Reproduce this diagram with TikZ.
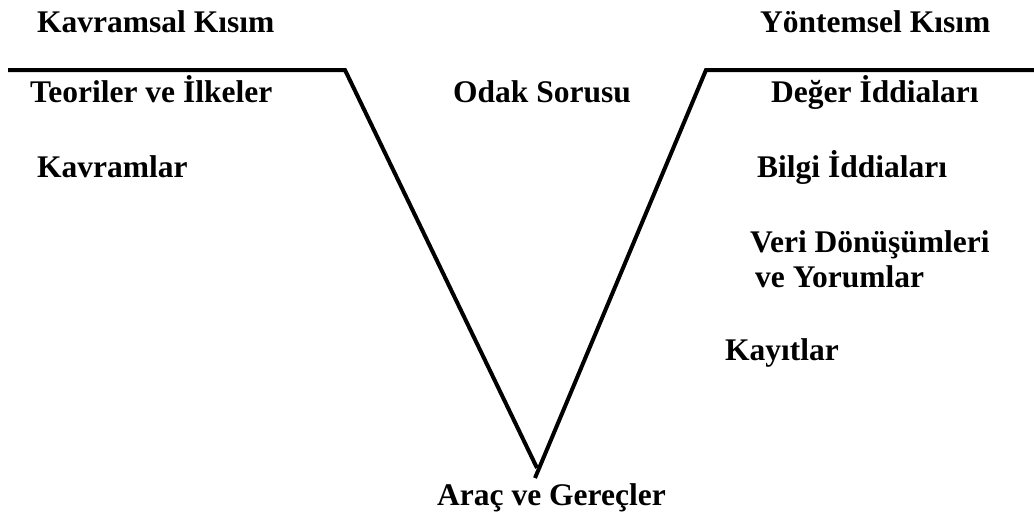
\documentclass[tikz,border=0pt]{standalone}
\usepackage{fontspec}
\setmainfont{Liberation Serif}[BoldFont={Liberation Serif Bold}]
\begin{document}
\begin{tikzpicture}[x=1pt,y=-1pt,
  lbl/.style={anchor=base west,inner sep=0pt,font=\fontsize{31.5}{36}\selectfont\bfseries},
  vline/.style={line width=4pt,line cap=butt,line join=miter}]
\useasboundingbox (0,0) rectangle (1034,523);
\coordinate (l0) at (8,70);
\coordinate (l1) at (345,70);
\coordinate (b1) at (537,468);
\coordinate (b2) at (535,478);
\coordinate (r1) at (706,70);
\coordinate (r0) at (1034,70);
\draw[vline] (l0) -- (l1) -- (b1);
\draw[vline] (b2) -- (r1) -- (r0);
\node[lbl] (kk) at (37,32) {Kavramsal Kısım};
\node[lbl] (ti) at (30,102) {Teoriler ve İlkeler};
\node[lbl] (kv) at (37,177) {Kavramlar};
\node[lbl] (os) at (453,102) {Odak Sorusu};
\node[lbl] (yk) at (760,32) {Yöntemsel Kısım};
\node[lbl] (di) at (771,102) {Değer İddiaları};
\node[lbl] (bi) at (757,177) {Bilgi İddiaları};
\node[lbl] (vd) at (750,252) {Veri Dönüşümleri};
\node[lbl] (vy) at (755,287) {ve Yorumlar};
\node[lbl] (ky) at (725,360) {Kayıtlar};
\node[lbl] (ag) at (437,505) {Araç ve Gereçler};
\end{tikzpicture}
\end{document}
